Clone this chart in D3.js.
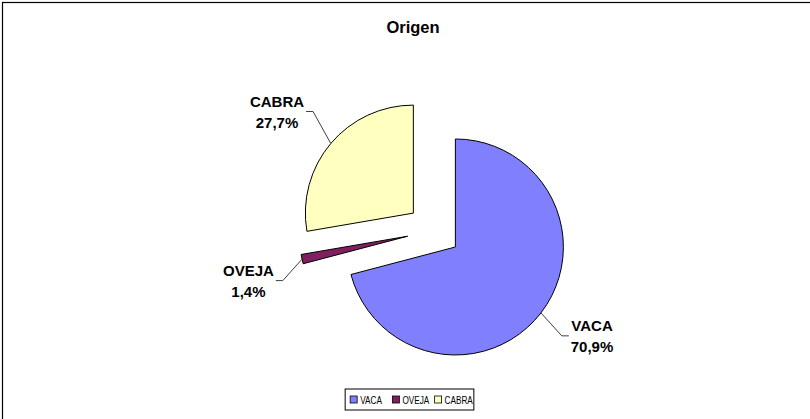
<!DOCTYPE html>
<html>
<head>
<meta charset="utf-8">
<script src="https://cdn.jsdelivr.net/npm/d3@7"></script>
<style>
  body { margin: 0; background: #fff; }
  svg { display: block; font-family: Arial, "Liberation Sans", sans-serif; }
</style>
</head>
<body>
<svg id="chart" width="810" height="419"></svg>
<script>
////////////////////
//     DATA      ///
////////////////////
var title = "Origen";
var categories = ["VACA", "OVEJA", "CABRA"];
var values = [70.9, 1.4, 27.7];
var colors = ["#8080ff", "#802060", "#ffffc0"];

////////////////////
//    OPTIONS    ///
////////////////////
var w = 810, h = 419;
var cx = 434, cy = 230.5;      // pie centre before explosion
var radius = 108;
var explode = 27;              // every slice pulled out by this
var labelDist = 137;           // gap from slice centre to nearest point of the label box
var labelTurn = -4 * Math.PI / 180;  // labels sit a little anticlockwise of the bisector
var labelBoxH = 34;
var tick = 7;                  // horizontal piece of the leader
var labelGap = 2;
var legendCx = 409.5, legendTop = 389, legendH = 21;
var legendSquash = 0.78;

var svg = d3.select("#chart");

// chart frame (runs off the right and bottom of the picture)
svg.append("rect")
   .attr("x", 2.5).attr("y", 2.5)
   .attr("width", w + 40).attr("height", h + 40)
   .attr("fill", "#fff")
   .attr("stroke", "#000")
   .attr("stroke-width", 1.2);

svg.append("text")
   .attr("x", 413).attr("y", 33)
   .attr("text-anchor", "middle")
   .style("font-weight", "bold")
   .style("font-size", "16.5px")
   .text(title);

var data = categories.map(function(c, i) { return {name: c, value: values[i], color: colors[i]}; });
var total = d3.sum(values);
var pct = function(v) { return d3.format(".1f")(v / total * 100).replace(".", ",") + "%"; };

var pie = d3.pie().sort(null).value(function(d) { return d.value; });
var arc = d3.arc().innerRadius(0).outerRadius(radius);
var arcs = pie(data);

var mid = function(d) { return (d.startAngle + d.endAngle) / 2; };
var polar = function(a, r) { return [Math.sin(a) * r, -Math.cos(a) * r]; };

var g = svg.append("g").attr("transform", "translate(" + cx + "," + cy + ")");

var slices = g.selectAll("g.slice")
   .data(arcs)
   .join("g")
   .attr("class", "slice")
   .attr("transform", function(d) {
     var p = polar(mid(d), explode);
     return "translate(" + p[0] + "," + p[1] + ")";
   });

slices.append("path")
   .attr("d", arc)
   .attr("fill", function(d) { return d.data.color; })
   .attr("stroke", "#000")
   .attr("stroke-width", 1);

// distance from origin to a box centred at (x,y)
function boxDist(x, y, hw, hh) {
  var dx = Math.max(Math.abs(x) - hw, 0), dy = Math.max(Math.abs(y) - hh, 0);
  return Math.sqrt(dx * dx + dy * dy);
}

// labels with leader lines
slices.each(function(d) {
  var s = d3.select(this);
  var a = mid(d);
  var side = Math.sin(a) >= 0 ? 1 : -1;

  var lab = s.append("text")
   .attr("text-anchor", "middle")
   .style("font-weight", "bold")
   .style("font-size", "15px");
  var t1 = lab.append("tspan").text(d.data.name);
  var t2 = lab.append("tspan").text(pct(d.data.value));
  var bw = Math.max(t1.node().getComputedTextLength(), t2.node().getComputedTextLength());

  // push the label box out along its direction until it is labelDist away
  var dir = polar(a + labelTurn, 1);
  var lo = 0, hi = 400;
  for (var k = 0; k < 40; k++) {
    var m = (lo + hi) / 2;
    if (boxDist(dir[0] * m, dir[1] * m, bw / 2, labelBoxH / 2) < labelDist) lo = m; else hi = m;
  }
  var bx = dir[0] * lo, by = dir[1] * lo;
  t1.attr("x", bx).attr("y", by - 6.5);
  t2.attr("x", bx).attr("y", by + 14.5);

  var near = bx - side * bw / 2;
  var p0 = polar(a, radius);
  var p2 = [near - side * labelGap, by - 2];
  var p1 = [p2[0] - side * tick, by - 2];

  s.insert("polyline", "text")
   .attr("points", [p0, p1, p2].map(function(p) { return p.join(","); }).join(" "))
   .attr("fill", "none")
   .attr("stroke", "#404040")
   .attr("stroke-width", 1);
});

// legend
var legend = svg.append("g");
var box = legend.append("rect")
   .attr("y", legendTop)
   .attr("height", legendH)
   .attr("fill", "#fff")
   .attr("stroke", "#000")
   .attr("stroke-width", 1);

var items = legend.selectAll("g.item").data(data).join("g").attr("class", "item");
items.append("rect")
   .attr("width", 7).attr("height", 7)
   .attr("y", legendTop + 7)
   .attr("fill", function(d) { return d.color; })
   .attr("stroke", "#000")
   .attr("stroke-width", 0.8);
items.append("text")
   .attr("y", legendTop + 14.5)
   .style("font-size", "10.5px")
   .text(function(d) { return d.name; });

var widths = [];
items.select("text").each(function() {
  var tw = this.getComputedTextLength() * legendSquash;
  d3.select(this).attr("textLength", tw).attr("lengthAdjust", "spacingAndGlyphs");
  widths.push(tw);
});
var itemW = 7 + 3 + d3.max(widths) + 4;
var legendW = 5 + itemW * (data.length - 1) + 10 + widths[widths.length - 1] + 1;
var x0 = legendCx - legendW / 2;
box.attr("x", x0).attr("width", legendW);
items.each(function(d, i) {
  var it = d3.select(this);
  var xs = x0 + 5 + i * itemW;
  it.select("rect").attr("x", xs);
  it.select("text").attr("x", xs + 10);
});
</script>
</body>
</html>
